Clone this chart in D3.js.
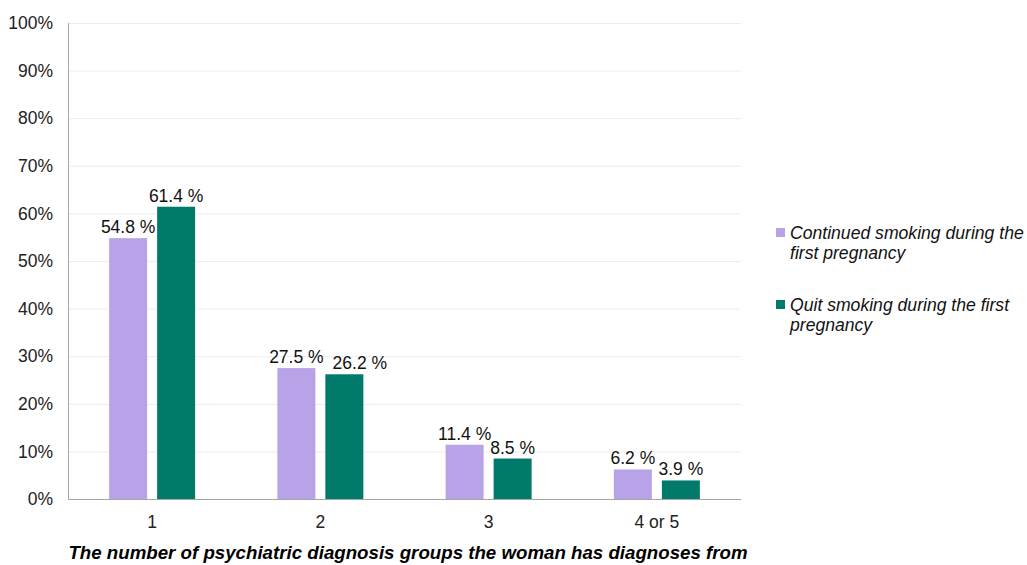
<!DOCTYPE html>
<html>
<head>
<meta charset="utf-8">
<script src="https://cdn.jsdelivr.net/npm/d3@7"></script>
<style>
  body { margin: 0; background: #fff; }
  svg { font-family: "Liberation Sans", Arial, sans-serif; }
</style>
</head>
<body>
<svg id="chart" width="1027" height="565"></svg>
<script>
const categories = ["1", "2", "3", "4 or 5"];
const seriesNames = ["Continued smoking during the first pregnancy", "Quit smoking during the first pregnancy"];
const continuedValues = [54.8, 27.5, 11.4, 6.2];
const quitValues = [61.4, 26.2, 8.5, 3.9];
const yTicks = [0, 10, 20, 30, 40, 50, 60, 70, 80, 90, 100];
const colors = ["#b8a2e8", "#007a6a"];
const xTitle = "The number of psychiatric diagnosis groups the woman has diagnoses from";

const svg = d3.select("#chart");
const plot = { left: 68, right: 741, top: 23, bottom: 499 };

const x = d3.scaleBand().domain(categories).range([plot.left, plot.right]).paddingInner(0).paddingOuter(0);
const y = d3.scaleLinear().domain([0, 100]).range([plot.bottom, plot.top]);

// gridlines
svg.append("g").selectAll("line").data(yTicks.filter(d => d > 0)).join("line")
  .attr("x1", plot.left).attr("x2", plot.right)
  .attr("y1", d => y(d) + 0.5).attr("y2", d => y(d) + 0.5)
  .attr("stroke", "#ededed").attr("stroke-width", 1);

// y tick labels
svg.append("g").selectAll("text").data(yTicks).join("text")
  .attr("x", 53).attr("y", d => y(d)).attr("dy", "0.35em")
  .attr("text-anchor", "end").attr("font-size", 17.5).attr("fill", "#222")
  .text(d => d + "%");

// bars with value labels
const barW = 38, offset = 24;
const series = [continuedValues, quitValues];
const labelGroups = [];
series.forEach((vals, si) => {
  const g = svg.append("g");
  const dx = si === 0 ? -offset : offset;
  g.selectAll("rect").data(vals).join("rect")
    .attr("x", (d, i) => x(categories[i]) + x.bandwidth() / 2 + dx - barW / 2)
    .attr("y", d => y(d))
    .attr("width", barW)
    .attr("height", d => y(0) - y(d))
    .attr("fill", colors[si]);
  labelGroups.push(g.selectAll("text").data(vals).join("text")
    .attr("x", (d, i) => x(categories[i]) + x.bandwidth() / 2 + dx)
    .attr("y", d => y(d) - 5)
    .attr("text-anchor", "middle").attr("font-size", 17.5).attr("fill", "#111")
    .text(d => d.toFixed(1) + " %"));
});

// nudge a right-hand label sideways when it sits on the same line as its neighbour
const leftLabels = labelGroups[0].nodes(), rightLabels = labelGroups[1].nodes();
rightLabels.forEach((node, i) => {
  const a = leftLabels[i].getBBox(), b = node.getBBox();
  const sameLine = Math.abs(b.y - a.y) < 10;
  if (sameLine && b.x < a.x + a.width + 6) {
    const shift = a.x + a.width + 9 - b.x;
    d3.select(node).attr("x", +node.getAttribute("x") + shift);
  }
});

// axis lines
svg.append("line").attr("x1", plot.left + 0.5).attr("x2", plot.left + 0.5).attr("y1", plot.top).attr("y2", plot.bottom)
  .attr("stroke", "#a6a6a6").attr("stroke-width", 1);
svg.append("line").attr("x1", plot.left).attr("x2", plot.right).attr("y1", plot.bottom + 0.5).attr("y2", plot.bottom + 0.5)
  .attr("stroke", "#a6a6a6").attr("stroke-width", 1);

// x tick labels
svg.append("g").selectAll("text").data(categories).join("text")
  .attr("x", d => x(d) + x.bandwidth() / 2).attr("y", 528)
  .attr("text-anchor", "middle").attr("font-size", 17.5).attr("fill", "#222")
  .text(d => d);

// x axis title
svg.append("text").attr("x", 408).attr("y", 559)
  .attr("text-anchor", "middle").attr("font-size", 18.7)
  .attr("font-weight", "bold").attr("font-style", "italic").attr("fill", "#000")
  .text(xTitle);

// legend
const legendLines = [["Continued smoking during the", "first pregnancy"], ["Quit smoking during the first", "pregnancy"]];
const legendY = [233, 305];
legendLines.forEach((lines, i) => {
  svg.append("rect").attr("x", 776).attr("y", legendY[i] - 5).attr("width", 9).attr("height", 9).attr("fill", colors[i]);
  const t = svg.append("text").attr("x", 790).attr("y", legendY[i])
    .attr("font-size", 17.6).attr("font-style", "italic").attr("fill", "#111");
  lines.forEach((l, j) => t.append("tspan").attr("x", 790).attr("dy", j === 0 ? "0.35em" : "1.15em").text(l));
});
</script>
</body>
</html>
